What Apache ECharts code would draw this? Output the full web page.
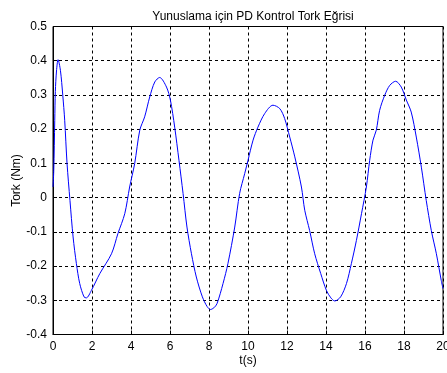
<!DOCTYPE html>
<html>
<head>
<meta charset="utf-8">
<script src="https://cdn.jsdelivr.net/npm/echarts@6/dist/echarts.min.js"></script>
<style>
html, body { margin: 0; padding: 0; background: #fff; }
#main { width: 447px; height: 373px; }
</style>
</head>
<body>
<div id="main"></div>
<script>
// zaman (s)
var tVals = [0, 0.04, 0.09, 0.12, 0.18, 0.26, 0.38, 0.5, 0.6, 0.72, 0.87, 1.03, 1.2, 1.37, 1.59, 1.71,
  1.97, 2.4, 3.0, 3.33, 3.68, 3.93, 4.19, 4.45, 4.7, 4.96, 5.22, 5.47, 5.82, 6.02, 6.24, 6.46,
  6.67, 6.87, 7.1, 7.35, 7.66, 7.9, 8.07, 8.25, 8.41, 8.72, 8.97, 9.32, 9.57, 9.83, 10.0, 10.26,
  10.51, 10.86, 11.28, 11.63, 11.88, 12.14, 12.4, 12.74, 12.91, 13.16, 13.42, 13.73, 14.02, 14.25,
  14.45, 14.75, 15.05, 15.3, 15.56, 15.82, 16.07, 16.24, 16.41, 16.58, 16.75, 17.01, 17.27, 17.57,
  17.86, 18.12, 18.37, 18.63, 18.89, 19.14, 19.4, 19.66, 19.91, 20.0];
// tork (Nm)
var torque = [0.031, 0.08, 0.226, 0.31, 0.37, 0.403, 0.372, 0.3, 0.226, 0.1, -0.008, -0.115, -0.193, -0.251, -0.29, -0.293,
  -0.271, -0.222, -0.164, -0.105, -0.047, 0.031, 0.1, 0.197, 0.236, 0.294, 0.338, 0.351, 0.323, 0.285, 0.206, 0.109,
  0.012, -0.086, -0.164, -0.232, -0.29, -0.318, -0.327, -0.322, -0.31, -0.251, -0.193, -0.086, 0.012, 0.07, 0.109, 0.168,
  0.206, 0.246, 0.27, 0.26, 0.231, 0.177, 0.119, 0.031, -0.037, -0.096, -0.164, -0.222, -0.271, -0.293,
  -0.302, -0.29, -0.251, -0.193, -0.125, -0.047, 0.031, 0.109, 0.168, 0.197, 0.255, 0.299, 0.328, 0.34,
  0.323, 0.285, 0.25, 0.177, 0.089, -0.008, -0.096, -0.164, -0.242, -0.266];

var xMin = 0, xMax = 20, xStep = 2;
var yMin = -0.4, yMax = 0.5, yStep = 0.1;

var chart = echarts.init(document.getElementById('main'));
var font = '"Liberation Sans", Arial, sans-serif';

chart.setOption({
  backgroundColor: '#fff',
  animation: false,
  title: {
    text: 'Yunuslama için PD Kontrol Tork Eğrisi',
    left: 248,
    textAlign: 'center',
    top: 6,
    textStyle: { fontFamily: font, fontSize: 12, fontWeight: 'normal', color: '#000' }
  },
  // eksen adlari (t(s), Tork (Nm))
  graphic: [
    {
      type: 'text', x: 248, y: 361,
      style: { text: 't(s)', font: '12px ' + font, fill: '#000', align: 'center', verticalAlign: 'middle' }
    },
    {
      type: 'text', x: 17, y: 180.5, rotation: Math.PI / 2,
      style: { text: 'Tork (Nm)', font: '12px ' + font, fill: '#000', align: 'center', verticalAlign: 'middle' }
    }
  ],
  grid: {
    left: 53, right: 4, top: 26.5, bottom: 38.5,
    containLabel: false,
    outerBoundsMode: 'none',
    show: true, borderColor: '#000', borderWidth: 1, backgroundColor: '#fff'
  },
  xAxis: {
    type: 'value',
    min: xMin, max: xMax, interval: xStep,
    axisLine: { show: true, onZero: false, lineStyle: { color: '#000' } },
    axisTick: { show: true, inside: true, length: 4, lineStyle: { color: '#000' } },
    axisLabel: { fontFamily: font, fontSize: 12, color: '#000', margin: 6 },
    splitLine: { show: true, lineStyle: { color: '#000', type: [3, 3], width: 1 } }
  },
  yAxis: {
    type: 'value',
    min: yMin, max: yMax, interval: yStep,
    axisLine: { show: true, onZero: false, lineStyle: { color: '#000' } },
    axisTick: { show: true, inside: true, length: 4, lineStyle: { color: '#000' } },
    axisLabel: {
      fontFamily: font, fontSize: 12, color: '#000', margin: 6,
      formatter: function (v) { return Math.abs(v) < 1e-9 ? '0' : v.toFixed(1); }
    },
    splitLine: { show: true, lineStyle: { color: '#000', type: [3, 3], width: 1 } }
  },
  series: [{
    type: 'line',
    data: tVals.map(function (t, i) { return [t, torque[i]]; }),
    smooth: 0.3,
    showSymbol: false,
    lineStyle: { color: '#0000ff', width: 1 },
    clip: true
  }]
});
</script>
</body>
</html>
